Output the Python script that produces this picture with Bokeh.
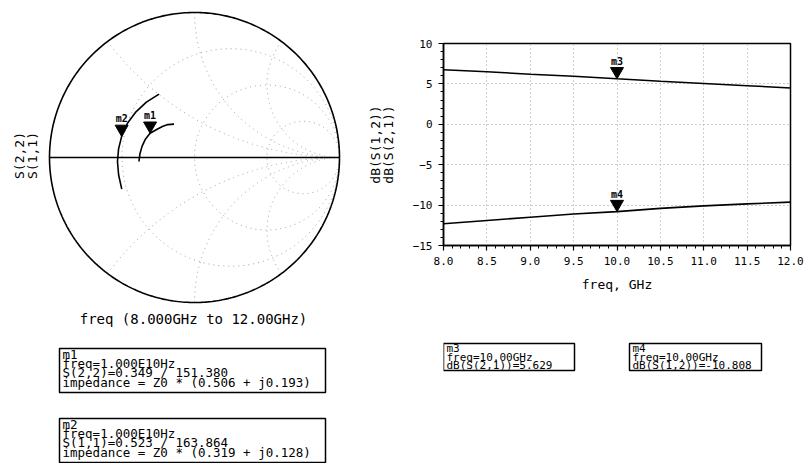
import numpy as np
from bokeh.plotting import figure
from bokeh.models import Range1d, SingleIntervalTicker, PrintfTickFormatter
from bokeh.layouts import row, column
from bokeh.embed import file_html
from bokeh.resources import INLINE
from bokeh.core.properties import value

# ---------------- data ----------------
freq_ghz = [8.0, 8.5, 9.0, 9.5, 10.0, 10.5, 11.0, 11.5, 12.0]
s11_mag = [0.547, 0.537, 0.532, 0.527, 0.523, 0.519, 0.512, 0.506, 0.501]
s11_ang = [203.5, 193.0, 183.0, 173.5, 163.864, 153.0, 142.0, 131.0, 119.2]
s22_mag = [0.384, 0.377, 0.370, 0.362, 0.349, 0.323, 0.308, 0.292, 0.270]
s22_ang = [184.1, 176.0, 168.0, 160.0, 151.38, 143.0, 136.0, 129.0, 121.5]
s21_db = [6.75, 6.50, 6.20, 5.95, 5.629, 5.33, 5.05, 4.78, 4.50]
s12_db = [-12.31, -11.90, -11.50, -11.10, -10.808, -10.40, -10.10, -9.85, -9.63]

marker_freq = 10.0
smith_r_grid = [1 / 3, 1.0, 3.0]
smith_x_grid = [0.5, 1.0, 2.0, -0.5, -1.0, -2.0]

m1_lines = ["m1", "freq=1.000E10Hz", "S(2,2)=0.349 / 151.380",
            "impedance = Z0 * (0.506 + j0.193)"]
m2_lines = ["m2", "freq=1.000E10Hz", "S(1,1)=0.523 / 163.864",
            "impedance = Z0 * (0.319 + j0.128)"]
m3_lines = ["m3", "freq=10.00GHz", "dB(S(2,1))=5.629"]
m4_lines = ["m4", "freq=10.00GHz", "dB(S(1,2))=-10.808"]
smith_title = "freq (8.000GHz to 12.00GHz)"

MONO = value("DejaVu Sans Mono")
GRID_COL = "#a0a0a0"
INK = "black"

def no_grid(p):
    for g in p.grid:
        g.visible = False

# ---------------- left: Smith chart ----------------
CX, CY, R = 194.0, 157.0, 145.0           # page position of chart centre / radius
LX0, LX1, LY0, LY1 = 0, 363, 0, 463
left = figure(width=LX1 - LX0, height=LY1 - LY0, x_range=Range1d(LX0, LX1),
              y_range=Range1d(LY1, LY0), output_backend="svg",
              toolbar_location=None, x_axis_location=None, y_axis_location=None,
              min_border=0, outline_line_color=None)
no_grid(left)
left.extra_x_ranges = {"gx": Range1d((LX0 - CX) / R, (LX1 - CX) / R)}
left.extra_y_ranges = {"gy": Range1d((CY - LY1) / R, (CY - LY0) / R)}
G = dict(x_range_name="gx", y_range_name="gy")

# grid: constant resistance circles
th = np.linspace(0, 2 * np.pi, 400)
for r in smith_r_grid:
    c, rad = r / (1 + r), 1 / (1 + r)
    left.line(c + rad * np.cos(th), rad * np.sin(th), line_color=GRID_COL,
              line_width=1, line_dash="1 4", **G)
# grid: constant reactance arcs
t = np.concatenate([np.linspace(0, 10, 500), np.logspace(1, 3.5, 200)])
for xv in smith_x_grid:
    z = t + 1j * xv
    g = (z - 1) / (z + 1)
    left.line(g.real, g.imag, line_color=GRID_COL, line_width=1,
              line_dash="1 4", **G)

# outer circle and real axis
left.line(np.cos(th), np.sin(th), line_color=INK, line_width=1.6, **G)
left.line([-1, 1], [0, 0], line_color=INK, line_width=1.6, **G)

def polar(mag, ang):
    a = np.radians(np.array(ang))
    m = np.array(mag)
    return m * np.cos(a), m * np.sin(a)

s11x, s11y = polar(s11_mag, s11_ang)
s22x, s22y = polar(s22_mag, s22_ang)
left.line(s11x, s11y, line_color=INK, line_width=1.6, **G)
left.line(s22x, s22y, line_color=INK, line_width=1.6, **G)

TRI = 13
tri_off_px = TRI * np.sqrt(3) / 3          # apex distance from marker centre
k = freq_ghz.index(marker_freq)
for name, gx, gy in [("m1", s22x[k], s22y[k]), ("m2", s11x[k], s11y[k])]:
    left.scatter([gx], [gy + tri_off_px / R], marker="inverted_triangle", size=TRI,
                 fill_color=INK, line_color=INK, **G)
    left.text([gx], [gy], text=[name], text_font=MONO, text_font_size="10px",
              text_font_style="bold", text_color=INK, text_align="center",
              text_baseline="bottom", y_offset=-12, **G)

# axis-like labels
left.text([19, 32], [155, 155], text=["S(2,2)", "S(1,1)"], angle=np.pi / 2,
          text_font=MONO, text_font_size="13px", text_color=INK,
          text_align="center", text_baseline="middle")
left.text([193], [318], text=[smith_title], text_font=MONO, text_font_size="14px",
          text_color=INK, text_align="center", text_baseline="middle")

def marker_box(p, x0, x1, y0, y1, lines, ys, fs):
    p.quad(left=[x0], right=[x1], top=[y0], bottom=[y1], fill_color=None,
           line_color=INK, line_width=1.5)
    p.text([x0 + 3] * len(lines), ys, text=lines, text_font=MONO,
           text_font_size=fs, text_color=INK, text_align="left",
           text_baseline="middle")

marker_box(left, 59, 325, 348, 392, m1_lines, [353.5, 362.5, 372, 382], "12.5px")
marker_box(left, 59, 325, 418, 462, m2_lines, [423.5, 432.5, 442, 452], "12.5px")

# ---------------- right: dB plot ----------------
RX0, RX1 = 363, 805
BL, BR = 80, 15                      # side borders; frame spans page x 443..790
rp = figure(width=RX1 - RX0, height=300, x_range=Range1d(8, 12),
            y_range=Range1d(-15, 10), output_backend="svg", toolbar_location=None,
            min_border_left=BL, min_border_right=BR, min_border_top=43,
            min_border_bottom=55, outline_line_color=INK, outline_line_width=1.5)
rp.xaxis.ticker = SingleIntervalTicker(interval=0.5, num_minor_ticks=5)
rp.yaxis.ticker = SingleIntervalTicker(interval=5, num_minor_ticks=5)
rp.xaxis.formatter = PrintfTickFormatter(format="%.1f")
for ax in (rp.xaxis, rp.yaxis):
    ax.axis_line_color = INK
    ax.axis_line_width = 1.5
    ax.major_tick_line_color = INK
    ax.minor_tick_line_color = INK
    ax.major_tick_line_width = 1.2
    ax.minor_tick_line_width = 1.0
    ax.major_tick_in = 0
    ax.minor_tick_in = 0
    ax.major_tick_out = 5
    ax.minor_tick_out = 3
    ax.major_label_text_font = "DejaVu Sans Mono"
    ax.major_label_text_font_size = "11px"
    ax.major_label_text_color = INK
    ax.axis_label_text_font = "DejaVu Sans Mono"
    ax.axis_label_text_font_size = "13px"
    ax.axis_label_text_font_style = "normal"
    ax.axis_label_text_color = INK
rp.xaxis.major_label_standoff = 6
rp.yaxis.major_label_standoff = 6
rp.xaxis.axis_label = "freq, GHz"
rp.xaxis.axis_label_standoff = 9
rp.yaxis.axis_label = "dB(S(1,2))\ndB(S(2,1))"
rp.yaxis.axis_label_standoff = 14
rp.yaxis.axis_label_text_line_height = 0.85
rp.grid.grid_line_color = GRID_COL
rp.grid.grid_line_dash = "1 3"
rp.grid.grid_line_width = 1

rp.line(freq_ghz, s21_db, line_color=INK, line_width=1.6)
rp.line(freq_ghz, s12_db, line_color=INK, line_width=1.6)
frame_h = 300 - 43 - 55
dy_px = 25.0 / frame_h
for name, yv in [("m3", s21_db[k]), ("m4", s12_db[k])]:
    rp.scatter([marker_freq], [yv + tri_off_px * dy_px], marker="inverted_triangle",
               size=TRI, fill_color=INK, line_color=INK)
    rp.text([marker_freq], [yv], text=[name], text_font=MONO, text_font_size="10px",
            text_font_style="bold", text_color=INK, text_align="center",
            text_baseline="bottom", y_offset=-12)

# ---------------- right: marker boxes ----------------
# same side borders as the dB plot, so its frame spans page x 443..790 too
rb = figure(width=RX1 - RX0, height=163, x_range=Range1d(RX0 + BL, RX1 - BR),
            y_range=Range1d(463, 300), output_backend="svg", toolbar_location=None,
            x_axis_location=None, y_axis_location=None, min_border=0,
            min_border_left=BL, min_border_right=BR, outline_line_color=None)
no_grid(rb)
marker_box(rb, 443, 574, 343, 370, m3_lines, [348, 356.5, 365], "11px")
marker_box(rb, 629, 761, 343, 370, m4_lines, [348, 356.5, 365], "11px")

layout = row(left, column(rp, rb))
open("out.html", "w").write(file_html(layout, INLINE))
